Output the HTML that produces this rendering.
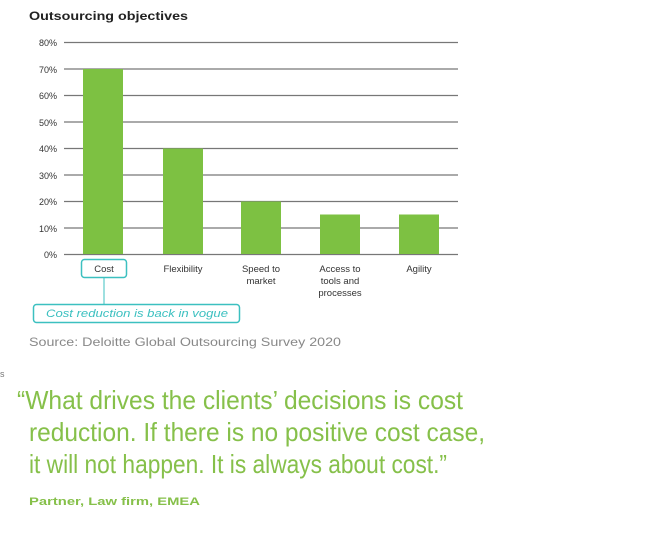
<!DOCTYPE html>
<html><head><meta charset="utf-8"><style>
html,body{margin:0;padding:0;background:#fff;}
svg{display:block;}
text{font-family:"Liberation Sans",sans-serif;}
</style></head><body>
<svg width="653" height="536" viewBox="0 0 653 536">
<text x="29" y="20" font-size="12" font-weight="bold" fill="#222" textLength="159" lengthAdjust="spacingAndGlyphs">Outsourcing objectives</text>
<g stroke="#777" stroke-width="1.3">
<line x1="64" y1="42.5" x2="458" y2="42.5"/>
<line x1="64" y1="69" x2="458" y2="69"/>
<line x1="64" y1="95.5" x2="458" y2="95.5"/>
<line x1="64" y1="122" x2="458" y2="122"/>
<line x1="64" y1="148.5" x2="458" y2="148.5"/>
<line x1="64" y1="175" x2="458" y2="175"/>
<line x1="64" y1="201.5" x2="458" y2="201.5"/>
<line x1="64" y1="228" x2="458" y2="228"/>
<line x1="64" y1="254.5" x2="458" y2="254.5"/>
</g>
<g font-size="9" fill="#333" text-anchor="end">
<text x="57" y="46">80%</text><text x="57" y="73">70%</text><text x="57" y="99">60%</text>
<text x="57" y="126">50%</text><text x="57" y="152">40%</text><text x="57" y="179">30%</text>
<text x="57" y="205">20%</text><text x="57" y="232">10%</text><text x="57" y="258">0%</text>
</g>
<g fill="#7dc142">
<rect x="83" y="69" width="40" height="185"/>
<rect x="163" y="148.5" width="40" height="105.5"/>
<rect x="241" y="201.5" width="40" height="52.5"/>
<rect x="320" y="214.5" width="40" height="39.5"/>
<rect x="399" y="214.5" width="40" height="39.5"/>
</g>
<g font-size="9.5" fill="#333" text-anchor="middle">
<text x="104" y="272">Cost</text>
<text x="183" y="272">Flexibility</text>
<text x="261" y="272">Speed to</text><text x="261" y="284">market</text>
<text x="340" y="272">Access to</text><text x="340" y="284">tools and</text><text x="340" y="296">processes</text>
<text x="419" y="272">Agility</text>
</g>
<rect x="81.5" y="259.5" width="45" height="18" rx="3" fill="none" stroke="#3cc0c0" stroke-width="1.5"/>
<line x1="104" y1="278" x2="104" y2="304" stroke="#3cc0c0" stroke-width="1"/>
<rect x="33.5" y="304.5" width="206" height="18" rx="3" fill="none" stroke="#3cc0c0" stroke-width="1.5"/>
<text x="137" y="317" font-size="11" font-style="italic" fill="#3cc0c0" text-anchor="middle" textLength="182" lengthAdjust="spacingAndGlyphs">Cost reduction is back in vogue</text>
<text x="29" y="346" font-size="12" fill="#888" textLength="312" lengthAdjust="spacingAndGlyphs">Source: Deloitte Global Outsourcing Survey 2020</text>
<text x="0" y="377" font-size="9" fill="#777">s</text>
<g font-size="26" fill="#86c04a">
<text x="17" y="409" textLength="446" lengthAdjust="spacingAndGlyphs">“What drives the clients’ decisions is cost</text>
<text x="29" y="441" textLength="456" lengthAdjust="spacingAndGlyphs">reduction. If there is no positive cost case,</text>
<text x="29" y="473" textLength="418" lengthAdjust="spacingAndGlyphs">it will not happen. It is always about cost.”</text>
</g>
<text x="29" y="505" font-size="11" font-weight="bold" fill="#86c04a" textLength="171" lengthAdjust="spacingAndGlyphs">Partner, Law firm, EMEA</text>
</svg>
</body></html>
